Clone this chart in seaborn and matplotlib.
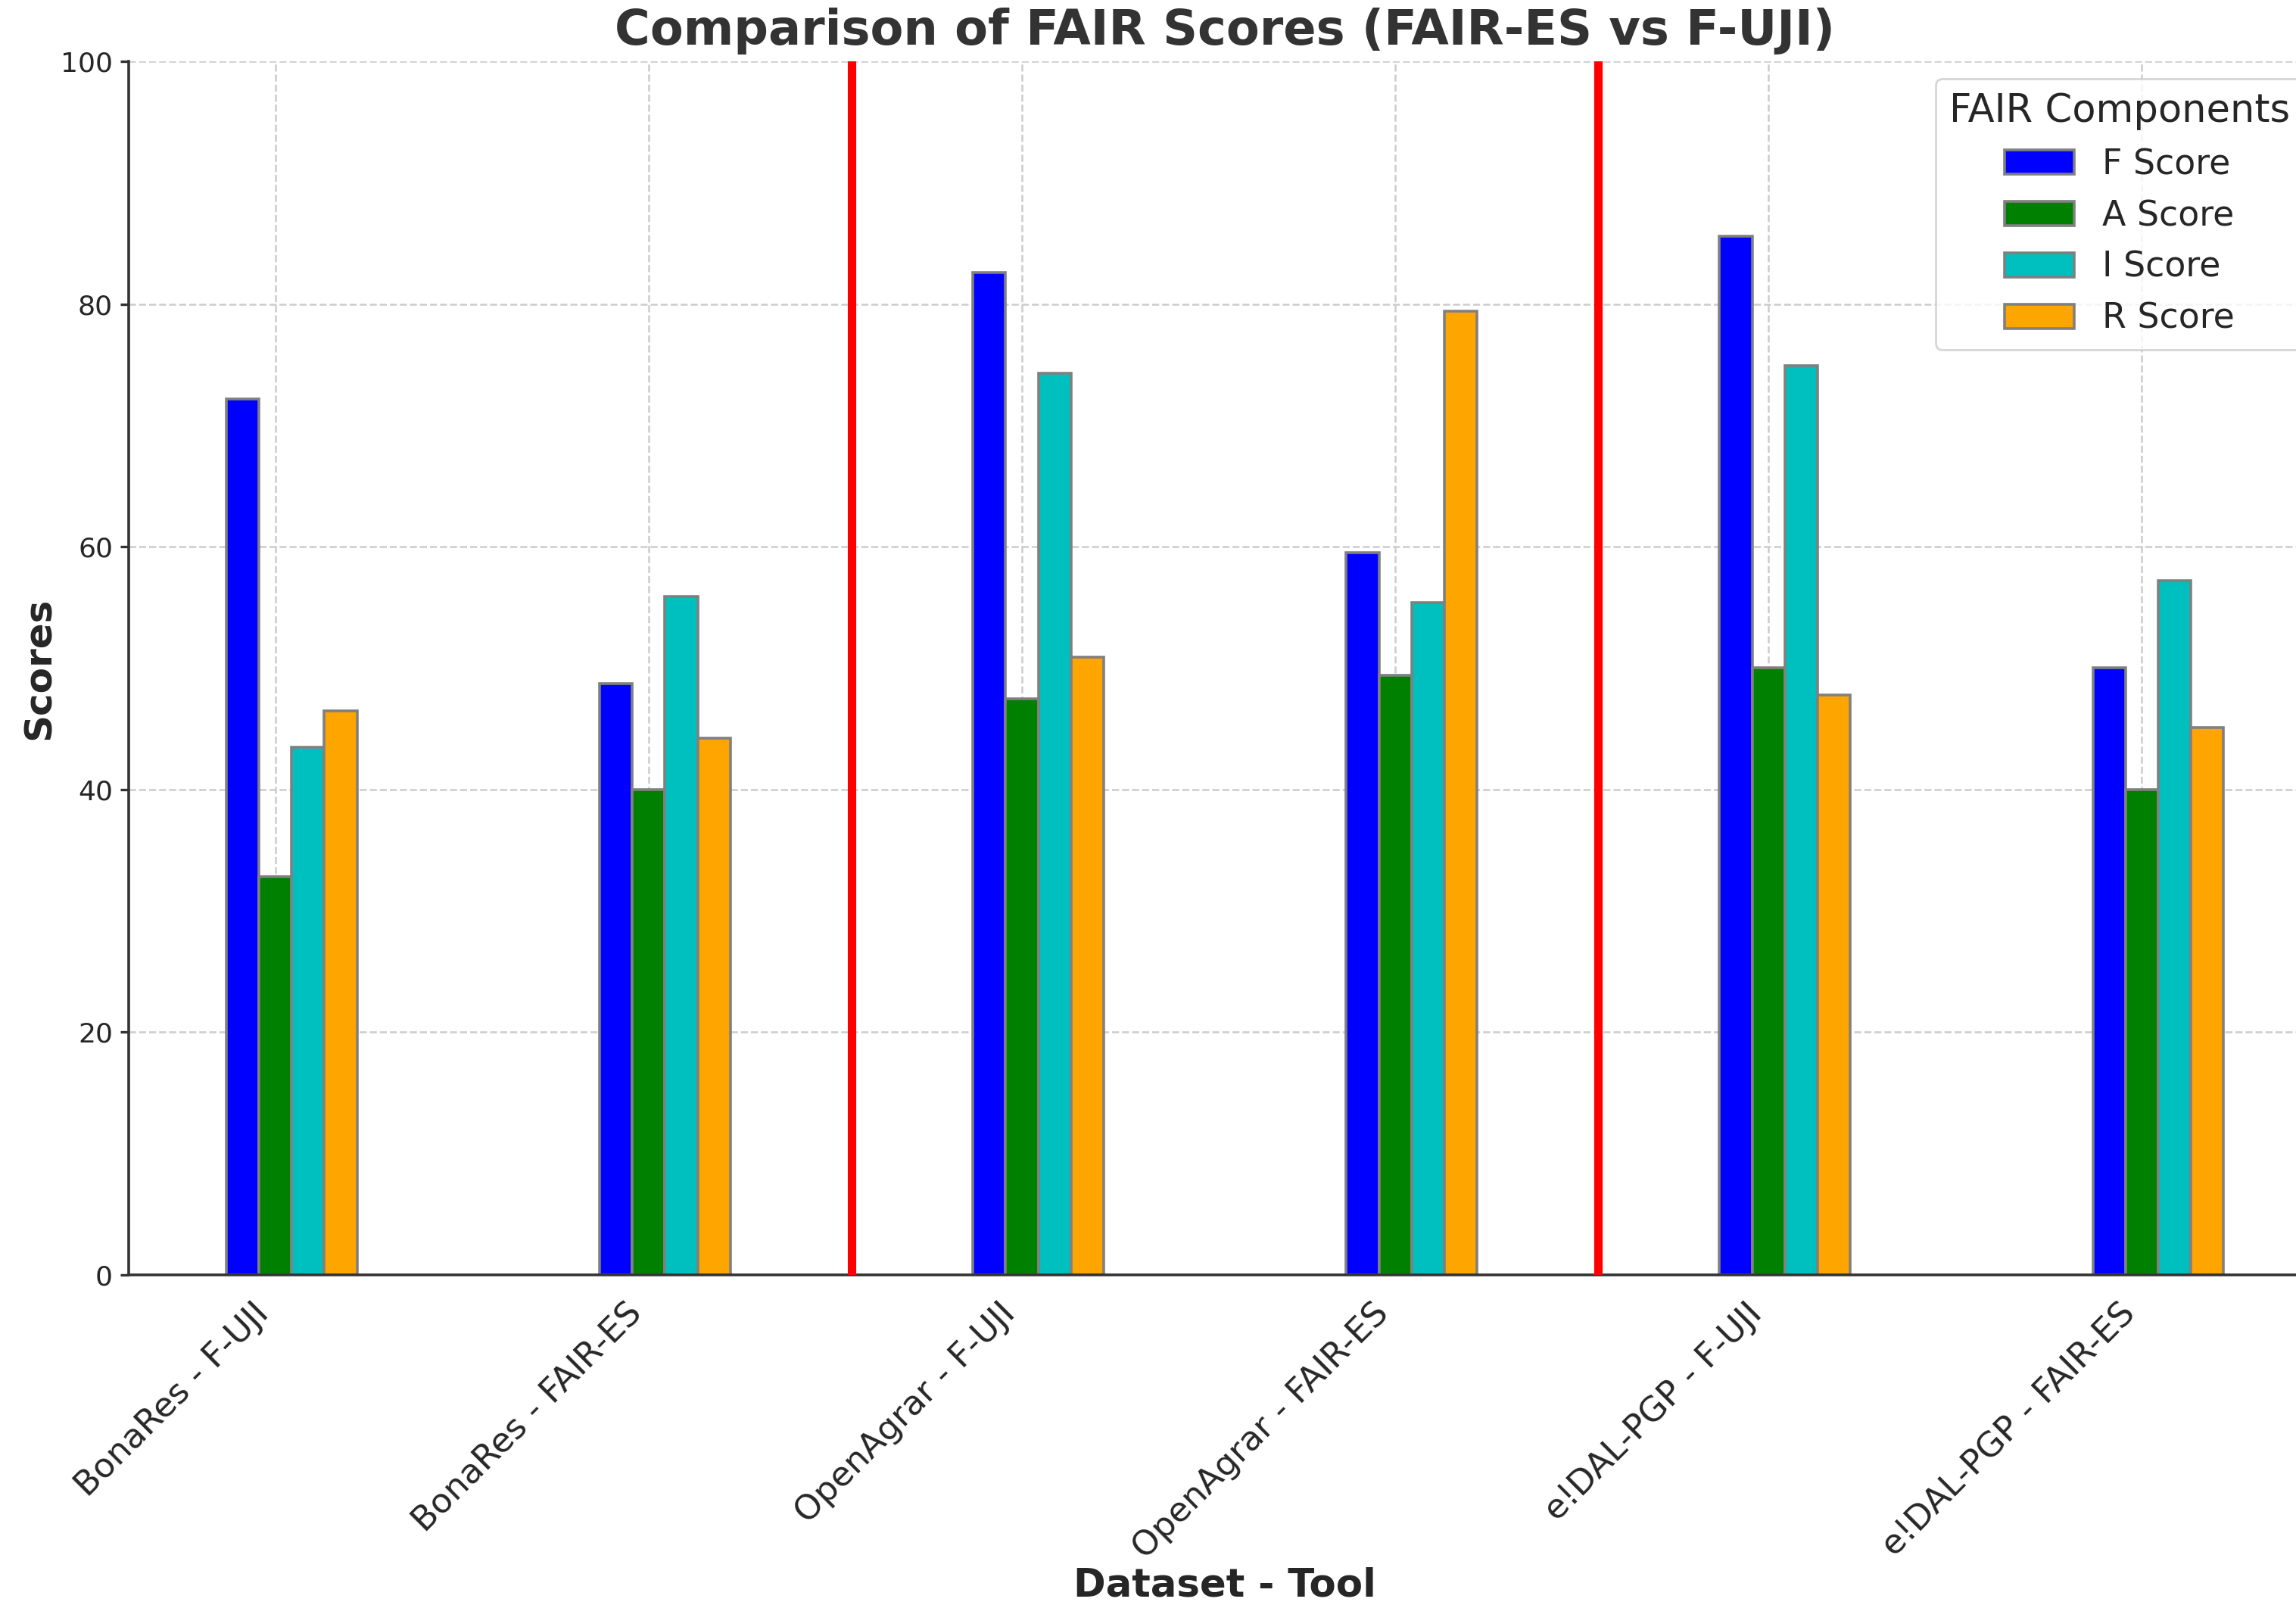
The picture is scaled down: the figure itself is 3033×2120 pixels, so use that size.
import numpy as np
import pandas as pd
import matplotlib
matplotlib.use("Agg")
import matplotlib.pyplot as plt
import seaborn as sns

# values
DATASETS = [
    "BonaRes - F-UJI",
    "BonaRes - FAIR-ES",
    "OpenAgrar - F-UJI",
    "OpenAgrar - FAIR-ES",
    "e!DAL-PGP - F-UJI",
    "e!DAL-PGP - FAIR-ES",
]
COMPONENTS = ["F Score", "A Score", "I Score", "R Score"]
F_SCORES = [72.2, 48.7, 82.6, 59.5, 85.6, 50.0]
A_SCORES = [32.8, 40.0, 47.5, 49.4, 50.0, 40.0]
I_SCORES = [43.5, 55.9, 74.3, 55.4, 74.9, 57.2]
R_SCORES = [46.5, 44.2, 50.9, 79.4, 47.8, 45.1]
COLORS = ["blue", "green", "c", "orange"]
Y_TICKS = [0, 20, 40, 60, 80, 100]

GROUP_WIDTH = 0.35
BAR_WIDTH = GROUP_WIDTH / len(COMPONENTS)

wide = pd.DataFrame(
    {"Dataset - Tool": DATASETS,
     "F Score": F_SCORES,
     "A Score": A_SCORES,
     "I Score": I_SCORES,
     "R Score": R_SCORES}
)
long_df = wide.melt(
    id_vars="Dataset - Tool",
    value_vars=COMPONENTS,
    var_name="Component",
    value_name="Score",
)

sns.set_style("whitegrid")
plt.rcParams["font.family"] = ["DejaVu Sans"]

fig = plt.figure(figsize=(15.165, 10.6), dpi=200)
ax = fig.add_axes([0.056, 0.2057, 0.955, 0.7561])

sns.barplot(
    data=long_df,
    x="Dataset - Tool",
    y="Score",
    hue="Component",
    order=DATASETS,
    hue_order=COMPONENTS,
    palette=COLORS,
    width=GROUP_WIDTH,
    gap=0,
    saturation=1,
    edgecolor="grey",
    linewidth=1.3,
    errorbar=None,
    ax=ax,
)

x = np.arange(len(DATASETS))

# red separators between dataset pairs
for k in (1, 3):
    ax.axvline((x[k] + x[k + 1]) / 2, color="red", linewidth=4, zorder=3)

ax.set_xticks(x - BAR_WIDTH / 2)
ax.set_xticklabels(DATASETS, rotation=45, ha="right", fontsize=16.2)
ax.set_xlim(-0.437, len(DATASETS) - 1 + 0.437)
ax.set_ylim(0, 100)
ax.set_yticks(Y_TICKS)
ax.tick_params(axis="y", labelsize=13, left=True, length=4, width=1.2,
               color="#333333")
ax.tick_params(axis="x", pad=7)

ax.grid(True, axis="both", linestyle="--", color="#cccccc", linewidth=0.9)
ax.set_axisbelow(True)

for side in ["top", "right"]:
    ax.spines[side].set_visible(False)
for side in ["left", "bottom"]:
    ax.spines[side].set_color("#333333")
    ax.spines[side].set_linewidth(1.3)

ax.set_title("Comparison of FAIR Scores (FAIR-ES vs F-UJI)",
             fontsize=23, fontweight="bold", color="#333333", pad=8)
ax.set_xlabel("Dataset - Tool", fontsize=18.5, fontweight="bold")
ax.set_ylabel("Scores", fontsize=18, fontweight="bold")
ax.xaxis.set_label_coords(0.5, -0.2405)
ax.yaxis.set_label_coords(-0.0325, 0.5)

handles, labels = ax.get_legend_handles_labels()
ax.legend(handles, labels, title="FAIR Components", loc="upper right",
          fontsize=16.5, title_fontsize=18.4, frameon=True)

fig.savefig("out.png", dpi=200)
